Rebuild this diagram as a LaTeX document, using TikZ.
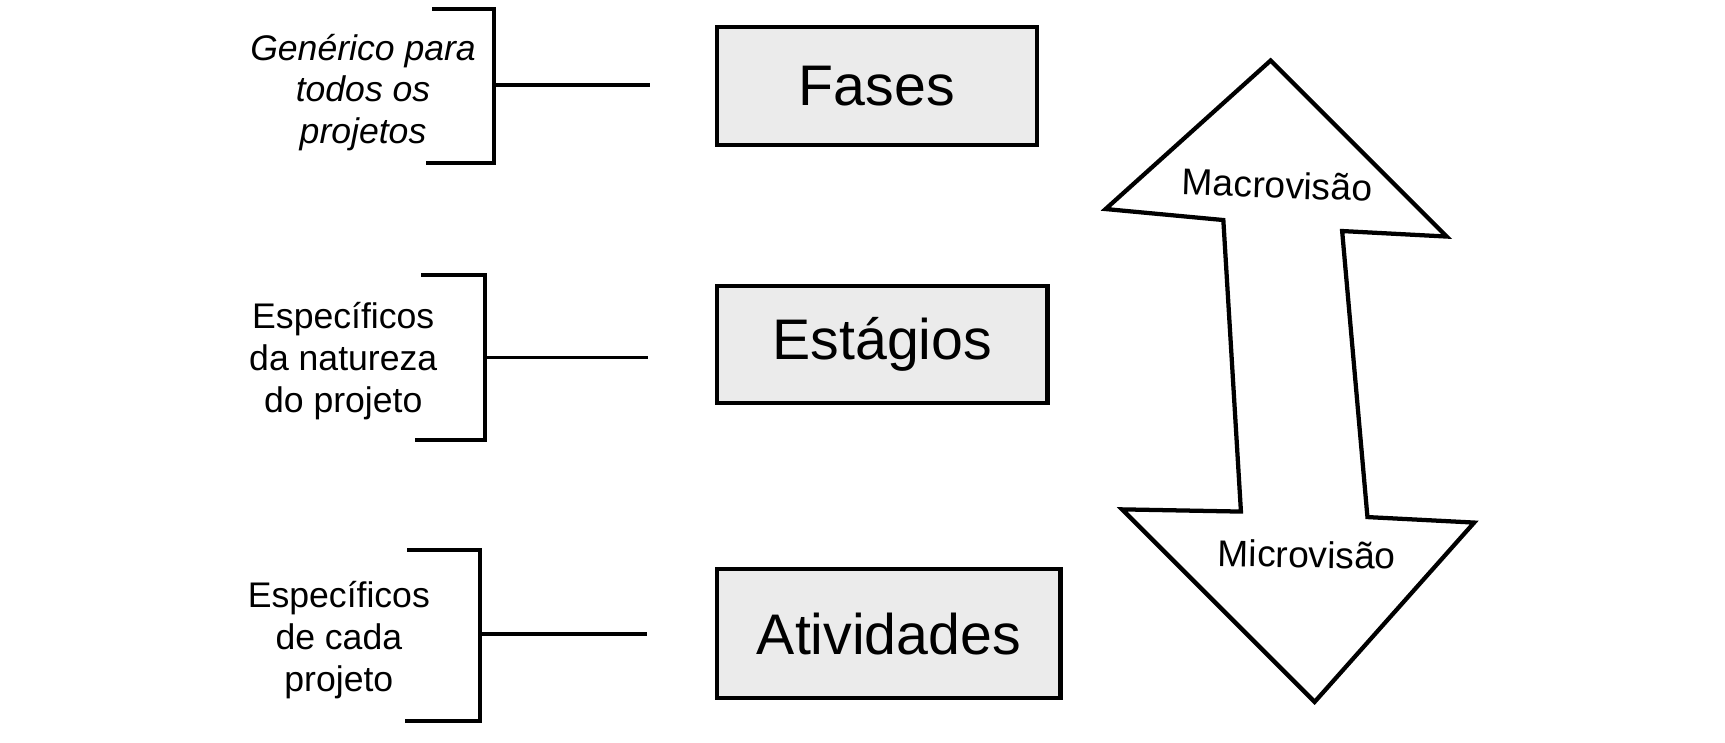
\documentclass[tikz,border=0pt]{standalone}
\usepackage{fontspec}
\setmainfont{Liberation Sans}
\usetikzlibrary{positioning}
\definecolor{boxgray}{HTML}{EBEBEB}
\tikzset{
    %Define style for the level boxes
    levelbox/.style={
           rectangle,
           draw=black, line width=1.1pt,
           fill=boxgray,
           inner sep=0pt,
           font=\fontsize{14.8}{18}\selectfont},
    %Define style for the side labels
    sidelabel/.style={
           align=center,
           font=\fontsize{9.2}{10.8}\selectfont},
    % Define bracket style
    brace/.style={draw=black, line width=1pt}
}
\begin{document}
\begin{tikzpicture}[x=0.01cm,y=-0.01cm]
\useasboundingbox (0,0) rectangle (1568,674.5);
 %boxes
\node[levelbox, minimum width=2.91cm, minimum height=1.07cm] (fases) at (797,78) {Fases};
\node[levelbox, minimum width=3.00cm, minimum height=1.06cm] (estagios) at (802,313) {Estágios};
\node[levelbox, minimum width=3.12cm, minimum height=1.17cm] (atividades) at (808,576) {Atividades};

 %labels
\node[sidelabel, font=\fontsize{9.2}{10.8}\selectfont\itshape] (generico) at (330,84) {Genérico para\\todos os\\projetos};
\node[sidelabel] (natureza) at (312,328) {Específicos\\da natureza\\do projeto};
\node[sidelabel] (cada) at (308,582) {Específicos\\de cada\\projeto};

 %brackets
\coordinate (b1) at (449,77);
\coordinate (b2) at (441,325);
\coordinate (b3) at (436,576);
\draw[brace] (393,8) -- (449,8) -- (449,148) -- (387,148);
\draw[brace] (383,250) -- (441,250) -- (441,400) -- (377,400);
\draw[brace] (370,500) -- (436,500) -- (436,655) -- (368,655);
\coordinate[right=1.42cm of b1] (e1);
\coordinate[right=1.48cm of b2] (e2);
\coordinate[right=1.52cm of b3] (e3);
\draw[brace] (b1) -- (e1);
\draw[brace] (b2) -- (e2);
\draw[brace] (b3) -- (e3);

 %double arrow
\draw[line width=1.1pt, line join=miter] (1155,55) -- (1315,215) -- (1220,210) -- (1243,470)
    -- (1340,475) -- (1195,638) -- (1020,463) -- (1128,465) -- (1112,200) -- (1005,190) -- cycle;
\node[font=\fontsize{9.6}{11}\selectfont, rotate=-2] (macro) at (1161,168) {Macrovisão};
\node[font=\fontsize{9.6}{11}\selectfont, rotate=-1] (micro) at (1188,504) {Microvisão};
\end{tikzpicture}
\end{document}
